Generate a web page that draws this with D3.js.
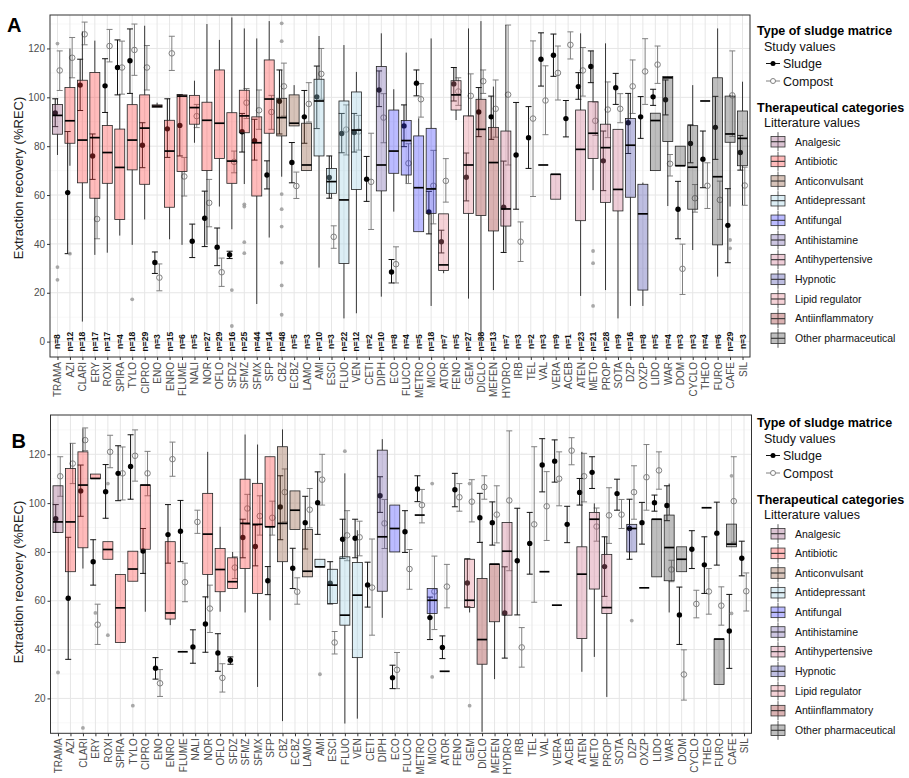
<!DOCTYPE html>
<html><head><meta charset="utf-8">
<script src="https://cdn.jsdelivr.net/npm/d3@7"></script>
<style>body{margin:0;background:#fff}svg{display:block;font-family:"Liberation Sans",Arial,sans-serif}</style>
</head><body><svg id="chart" width="909" height="778"></svg>
<script>
const categories = ["TRAMA","AZI","CLARI","ERY","ROXI","SPIRA","TYLO","CIPRO","ENO","ENRO","FLUME","NALI","NOR","OFLO","SFDZ","SFMZ","SFMX","SFP","CBZ","ECBZ","LAMO","AMI","ESCI","FLUO","VEN","CETI","DIPH","ECO","FLUCO","METRO","MICO","ATOR","FENO","GEM","DICLO","MEFEN","HYDRO","IRB","TEL","VAL","VERA","ACEB","ATEN","METO","PROP","SOTA","DZP","OXZP","LIDO","WAR","DOM","CYCLO","THEO","FURO","CAFE","SIL"];
const therapeuticClass = ["Analgesic",
 "Antibiotic","Antibiotic","Antibiotic","Antibiotic","Antibiotic","Antibiotic","Antibiotic","Antibiotic","Antibiotic","Antibiotic","Antibiotic","Antibiotic","Antibiotic","Antibiotic","Antibiotic","Antibiotic","Antibiotic",
 "Anticonvulsant","Anticonvulsant","Anticonvulsant",
 "Antidepressant","Antidepressant","Antidepressant","Antidepressant",
 "Antihistamine","Antihistamine",
 "Antifungal","Antifungal","Antifungal","Antifungal",
 "Lipid regulator","Lipid regulator","Lipid regulator",
 "Antiinflammatory","Antiinflammatory",
 "Antihypertensive","Antihypertensive","Antihypertensive","Antihypertensive","Antihypertensive","Antihypertensive","Antihypertensive","Antihypertensive","Antihypertensive","Antihypertensive",
 "Hypnotic","Hypnotic",
 "Other pharmaceutical","Other pharmaceutical","Other pharmaceutical","Other pharmaceutical","Other pharmaceutical","Other pharmaceutical","Other pharmaceutical","Other pharmaceutical"];
const nCounts = [8,12,18,17,17,4,18,29,3,15,6,5,27,29,16,25,44,14,48,5,3,10,3,22,12,2,10,8,4,5,18,7,5,27,38,13,7,3,2,3,9,1,23,21,28,9,16,8,5,4,3,3,4,6,29,3];

// study values (same in both panels)
const sludgeMean = [93.6,61,105,76,104.7,112.2,115,80.4,32.4,87.1,88.5,41.1,50.5,38.6,35.6,85.9,82.2,68.2,98.4,73.3,92,100.2,67.2,85.2,85.6,66.5,103,28.5,88.3,105.8,53.1,40.9,105.5,67.3,94,92,55,76.4,83.5,115.6,117.2,91.3,104.4,112.6,74,103.9,89.6,92,100.2,99,54.2,81.1,74.7,87.7,47.6,77.4];
const sludgeLow  = [88,36,94.6,66.4,93.8,101,101.6,71.2,27.9,75.4,76,34.4,38.9,31.1,34,77.6,74.3,62.5,85,65,81.2,87.2,58.7,77.3,77.6,57.4,96.2,24,79.8,100.6,44.1,36.3,98.5,57.6,83.9,82.8,36.5,54.2,70.9,104.6,108.6,83.8,99.2,106,61.8,97.1,77,83.2,96.7,92.8,42.1,73.2,63,74.6,32.3,70.2];
const sludgeHigh = [99.4,86,115.6,85,115.8,123.5,128,89.6,36.7,99.4,101.1,48.1,61.6,46.5,37,93.4,91,74,111.2,81.5,102.8,112.8,76,93.4,93.4,75.8,110.8,33.6,96.9,111.2,61.5,45.6,112.2,77.2,104,100.5,73.9,97.9,96.2,126.4,125.9,98.7,110.1,119,86.2,109.8,101.6,100.3,103.3,107.1,65.6,88.7,86.2,100.4,62.6,84.4];
const compostMean = [111,116.2,125.8,50.2,121,112.2,119.4,112.2,26.2,118,67.6,92.3,56.8,28.4,73.6,97.8,94.7,94,104.5,63.7,97.3,109.6,42.9,86.8,86,65.4,91.7,31.7,73,99.2,63.8,65.8,102.4,100.6,106.6,95.3,101.1,40.9,91.3,98.7,110,121.5,111,90.4,95,95.3,104.5,110.6,113.4,72.8,29.8,58.7,63.8,58,100.8,63.9];
const compostLow  = [102.8,108,121.5,42.1,114.5,101.3,109,103,20.8,111,59.6,87.6,47,22.6,69.1,91.3,86.9,86.9,92.3,58.6,89.9,99.2,38.2,76.4,78.4,45.9,81.4,24,64.7,91.9,48.2,57.1,96.7,92.3,101.6,83.7,72.3,32.8,59.4,84.7,98.9,115.7,100.5,84.4,83.5,89.6,93.4,97.1,105.7,67.8,19.3,53,54.5,50,84,55.8];
const compostHigh = [119,124.5,130.8,58.6,127.8,123,130,121.2,31.8,125,75.4,97.1,66.4,34.2,78,103.6,103,100.8,114,69.4,106,120,47.4,96.9,92.6,85.3,101.5,38.8,81,105.6,78.3,74.9,108,109.6,111.2,107.1,129.6,49,123.1,112.9,121,126.8,120.4,98,106.3,101.5,115.3,124,121,76.6,39.9,64.3,73.2,65.7,119,71.4];

// literature values: [lower whisker, Q1, median, Q3, upper whisker]
const boxA = [
 [76.4,84.9,92.6,97.1,99.6],[72,81.2,90.4,104,120],[8.2,65,82.5,107,127],[35.5,58.7,83.5,110.2,123.2],[36.4,64.8,77.4,88.5,94],
 [43.4,50,71.3,87,101.2],[39.6,70.3,82.5,97,101.6],[50,64.4,87.4,101,129.3],[95.9,95.9,96.4,96.9,97.8],[41.9,55,78,90.6,99.6],
 [39.6,69.6,100.5,101,101],[81.4,89,95.8,100.8,106.8],[39.6,70,90.6,98,130],[55.3,75,89.4,111.2,123.5],[46,64.8,73.9,93.7,132.7],
 [64.5,85.5,92.4,102.9,128.2],[15.4,59.6,81.4,92,124.1],[42.6,85.3,99.3,115.3,131.2],[67.5,84.2,91.7,99.6,111.2],[88.3,88.3,89.4,101,105],
 [70,70,72.3,89.4,89.4],[30.3,76,98.5,107.4,125.1],[58.9,60.7,65.5,70.9,76],[9.5,32,58,98.5,121.4],[11.6,62.3,86.6,102.2,110.4],
 null,[18.4,61.7,72.3,112.6,126.2],[53.2,68.9,78,94.8,103.3],[64.8,68.2,82.3,90.5,118.3],[45,45,63,84.2,91.4],
 [14.6,52.5,62.5,87.3,124.1],[28,29.1,31.4,52.3,52.3],[90.7,94.8,101,106.8,112.3],[17.6,52.5,72.3,92.4,128.2],[0,51.6,86.9,99.2,131.2],
 [21.1,45.3,73.3,87.7,104.4],[36.8,47.3,54.3,86.2,129.6],null,null,[72.3,72.3,72.3,72.3,72.3],
 [58.3,58.3,68.5,68.5,68.5],null,[18.7,49.5,78.7,94.8,126.2],[62,75,85.3,98.2,119.1],[21.1,57,79.4,89,122.1],
 [9.5,53.5,62.3,86.9,86.9],[14.6,59.1,80.4,91.3,101.6],[14.6,21.1,52.3,64.4,65.1],[70,70,90.5,93.5,93.5],[55.5,81.9,108,108.5,108.7],
 [72,72,72,80,80],[37.5,54.2,71.4,88.4,105],[98.5,98.5,98.5,98.5,98.5],[26.6,39.6,67.5,108,128.2],[55.3,81.6,85,100.5,101],
 [55.9,72,83.2,94.4,106.4]];
const outliersA = [[122,30.5,25.3],[36],[],[],[],[],[17.3],[],[],[],[],[],[],[],[21.1,6.4],[56.2,55.3,40.7,36.2],[],[],[130.3,123,60.4,54.2,47.1,32.3,23,11],[],
 [],[],[],[],[],[],[],[],[],[],[],[],[],[],[],[],[],[],[],[],[],[],[],[37.1,32.1,14.6],[],[],[],[],[],[],[],[],[],[],[41.6,38.2],[]];

const boxB = [
 [88,88,92.3,107.1,107.1],[71.9,71.9,92.3,114.2,124.5],[73.2,81.7,107.4,121,130.6],[110.1,110.1,110.1,111.9,111.9],[77,77,81,84.2,84.2],
 [42.9,42.9,57.1,70.8,70.8],[68,68,73,80.3,80.3],[55.5,81.1,107.4,107.4,107.4],null,[50,52.5,55,84.2,84.2],
 [39.1,39.1,39.1,39.1,39.1],null,[61,70.8,87.3,104,121],[55.5,63.7,72.8,81.4,90.3],[65,65,67.8,77.6,80],
 [55.2,73.2,91.7,109.8,128.1],[24.7,63,91.3,108.1,124],[52,90.3,90.3,119,119],[10.7,76,91.7,123.1,130.2],[89.2,89.2,97.1,105,105],
 [69.8,69.8,72.1,89.2,89.2],[73.9,73.9,73.9,77,77],[58.9,58.9,66.4,72.9,72.9],[9.7,50,54.1,78,112.2],[11.7,36.7,62.3,75.7,88.9],
 null,[53,63.9,86.2,121.7,126.2],[80,80,89.6,99.2,99.2],null,[95.1,95.1,95.1,95.1,95.1],
 [54.8,54.8,60.2,65,65],[31.1,31.1,31.1,31.1,31.1],null,[55.2,57.2,60.2,77,77],[6.3,34,44.1,69.1,84.2],
 [27.9,51.4,75,75,75],[54.1,54.1,80.3,92.1,92.1],null,null,[71.9,71.9,71.9,71.9,71.9],
 [58.2,58.2,58.2,58.2,58.2],null,[30.9,44.5,70.9,82.1,121],[37,64.8,93.4,96.2,99.9],[20.6,54.8,57.2,79,86.2],
 null,[80,80,89.6,91.3,91.3],[65.3,65.3,65.3,65.3,65.3],[69.8,69.8,93.4,93.4,93.4],[55.2,68.2,81.8,95.1,108],
 [71.9,71.9,77,82.1,82.1],null,[98.1,98.1,98.1,98.1,98.1],[25.7,25.7,44.3,44.3,44.3],[82.1,82.1,83.2,91.4,91.4],
 null];
const outliersB = [[30.6],[],[7.9],[55],[108,45.9],[],[17],[],[],[],[],[],[],[],[],[],[],[],[],[],
 [],[29.9],[],[121.3],[],[],[],[],[],[],[108,28.8],[],[],[108,17],[],[],[],[],[],[],[],[],[],[],[],[],[51.9],[],[],[],[],[],[],[],[111.2,54.8],[]];

const classNames = ["Analgesic","Antibiotic","Anticonvulsant","Antidepressant","Antifungal","Antihistamine","Antihypertensive","Hypnotic","Lipid regulator","Antiinflammatory","Other pharmaceutical"];
const classColors = ["#95547E","#FF3D3D","#8D5437","#9BCEE2","#3D3DFF","#705CA9","#CE708D","#4545A9","#E27E8D","#952323","#454545"];
const yTicksA = [0,20,40,60,80,100,120];
const yTicksB = [20,40,60,80,100,120];

const FILL_OP = 0.35;
const color = d3.scaleOrdinal().domain(classNames).range(classColors);
const svg = d3.select("#chart");
svg.append("rect").attr("width",909).attr("height",778).attr("fill","#fff");

function drawPanel(p){
  const g = svg.append("g");
  const y = d3.scaleLinear().domain(p.domain).range([p.bottom, p.top]);
  const x = d3.scalePoint().domain(categories).range([p.left, p.right]).padding(0.6);
  const step = x.step();
  const dodge = 0.18*step, cap = 3, hw = 0.4*step;
  // grid
  const minor = d3.range(-10, 150, 20).filter(v => v > p.domain[0] && v < p.domain[1]);
  g.selectAll(".minor").data(minor).join("line")
    .attr("x1",p.left).attr("x2",p.right).attr("y1",d=>y(d)).attr("y2",d=>y(d))
    .attr("stroke","#F2F2F2").attr("stroke-width",0.6);
  g.selectAll(".major").data(p.ticks).join("line")
    .attr("x1",p.left).attr("x2",p.right).attr("y1",d=>y(d)).attr("y2",d=>y(d))
    .attr("stroke","#E6E6E6").attr("stroke-width",1);
  g.selectAll(".vgrid").data(categories).join("line")
    .attr("x1",d=>x(d)).attr("x2",d=>x(d)).attr("y1",p.top).attr("y2",p.bottom)
    .attr("stroke","#E6E6E6").attr("stroke-width",1);

  // n labels
  if (p.showN){
    g.selectAll(".nlab").data(categories).join("text")
      .attr("transform",(d)=>`translate(${x(d)},${y(0)}) rotate(-90)`)
      .attr("text-anchor","middle").attr("dy","0.35em")
      .attr("font-size",8.5).attr("font-weight","bold").attr("fill","#111")
      .text((d,i)=>"n="+nCounts[i]);
  }

  categories.forEach((c,i)=>{
    const cx = x(c);
    // compost
    const xc = cx + dodge;
    g.append("line").attr("x1",xc).attr("x2",xc).attr("y1",y(compostLow[i])).attr("y2",y(compostHigh[i])).attr("stroke","#808080").attr("stroke-width",1);
    [compostLow[i],compostHigh[i]].forEach(v=>g.append("line").attr("x1",xc-cap).attr("x2",xc+cap).attr("y1",y(v)).attr("y2",y(v)).attr("stroke","#808080").attr("stroke-width",1));
    g.append("circle").attr("cx",xc).attr("cy",y(compostMean[i])).attr("r",2.8).attr("fill","none").attr("stroke","#808080").attr("stroke-width",1);
    // sludge
    const xs = cx - dodge;
    g.append("line").attr("x1",xs).attr("x2",xs).attr("y1",y(sludgeLow[i])).attr("y2",y(sludgeHigh[i])).attr("stroke","#111").attr("stroke-width",1);
    [sludgeLow[i],sludgeHigh[i]].forEach(v=>g.append("line").attr("x1",xs-cap).attr("x2",xs+cap).attr("y1",y(v)).attr("y2",y(v)).attr("stroke","#111").attr("stroke-width",1));
    g.append("circle").attr("cx",xs).attr("cy",y(sludgeMean[i])).attr("r",2.7).attr("fill","#000");
  });

  categories.forEach((c,i)=>{
    const b = p.box[i];
    const cx = x(c);
    (p.out[i]||[]).forEach(v=>g.append("circle").attr("cx",cx).attr("cy",y(v)).attr("r",1.9).attr("fill","#9a9a9a").attr("fill-opacity",0.85));
    if(!b) return;
    g.append("line").attr("x1",cx).attr("x2",cx).attr("y1",y(b[0])).attr("y2",y(b[1])).attr("stroke","#222").attr("stroke-width",0.9);
    g.append("line").attr("x1",cx).attr("x2",cx).attr("y1",y(b[3])).attr("y2",y(b[4])).attr("stroke","#222").attr("stroke-width",0.9);
    g.append("rect").attr("x",cx-hw).attr("width",2*hw).attr("y",y(b[3])).attr("height",Math.max(0,y(b[1])-y(b[3])))
      .attr("fill",color(therapeuticClass[i])).attr("fill-opacity",FILL_OP).attr("stroke","#222").attr("stroke-width",0.8);
    g.append("line").attr("x1",cx-hw).attr("x2",cx+hw).attr("y1",y(b[2])).attr("y2",y(b[2])).attr("stroke","#000").attr("stroke-width",1.7);
  });

  // border
  g.append("rect").attr("x",p.left).attr("y",p.top).attr("width",p.right-p.left).attr("height",p.bottom-p.top)
    .attr("fill","none").attr("stroke","#333").attr("stroke-width",1);

  // axes
  const ay = g.append("g").attr("transform",`translate(${p.left},0)`)
    .call(d3.axisLeft(y).tickValues(p.ticks).tickSize(3).tickPadding(2));
  ay.select(".domain").remove();
  ay.selectAll("line").attr("stroke","#333");
  ay.selectAll("text").attr("font-size",10).attr("fill","#4D4D4D").attr("font-family",'"Liberation Sans",Arial,sans-serif');
  const ax = g.append("g").attr("transform",`translate(0,${p.bottom})`)
    .call(d3.axisBottom(x).tickSize(3));
  ax.select(".domain").remove();
  ax.selectAll("line").attr("stroke","#333");
  ax.selectAll("text").attr("font-size",10).attr("fill","#4D4D4D").attr("font-family",'"Liberation Sans",Arial,sans-serif')
    .attr("transform","rotate(-90)").attr("text-anchor","end").attr("x",-5).attr("y",0).attr("dy","0.35em");

  // y title
  svg.append("text").attr("transform",`translate(22.5,${p.titleY}) rotate(-90)`).attr("text-anchor","middle")
    .attr("font-size",13).attr("fill","#222").text("Extraction recovery (%REC)");
  // panel tag
  svg.append("text").attr("x",p.tagX).attr("y",p.tagY).attr("font-size",20).attr("font-weight","bold").attr("fill","#000").text(p.tag);

  drawLegend(p.legendT);
}

function drawLegend(T){
  const g = svg.append("g");
  g.append("text").attr("x",757).attr("y",T).attr("font-size",12.5).attr("font-weight","bold").text("Type of sludge matrice");
  g.append("text").attr("x",764).attr("y",T+15.7).attr("font-size",12.5).attr("fill","#111").text("Study values");
  // sludge key
  let c = T+28.5;
  g.append("line").attr("x1",766).attr("x2",780).attr("y1",c).attr("y2",c).attr("stroke","#111").attr("stroke-width",1);
  g.append("circle").attr("cx",773).attr("cy",c).attr("r",2.5).attr("fill","#000");
  g.append("text").attr("x",783).attr("y",c+4.5).attr("font-size",12.5).attr("fill","#111").text("Sludge");
  c = T+46;
  g.append("line").attr("x1",766).attr("x2",780).attr("y1",c).attr("y2",c).attr("stroke","#808080").attr("stroke-width",1);
  g.append("circle").attr("cx",773).attr("cy",c).attr("r",2.5).attr("fill","#fff").attr("stroke","#808080");
  g.append("text").attr("x",783).attr("y",c+4.5).attr("font-size",12.5).attr("fill","#111").text("Compost");
  g.append("text").attr("x",757).attr("y",T+76.7).attr("font-size",12.5).attr("font-weight","bold").text("Therapeutical categories");
  g.append("text").attr("x",764).attr("y",T+92.3).attr("font-size",12.5).attr("fill","#111").text("Litterature values");
  classNames.forEach((n,i)=>{
    const cy = T+106.7+i*19.66;
    g.append("line").attr("x1",778).attr("x2",778).attr("y1",cy-9.5).attr("y2",cy+9.5).attr("stroke","#333").attr("stroke-width",0.8);
    g.append("rect").attr("x",771).attr("y",cy-5.3).attr("width",14).attr("height",10.6)
      .attr("fill",color(n)).attr("fill-opacity",FILL_OP).attr("stroke","#333").attr("stroke-width",0.8);
    g.append("line").attr("x1",771).attr("x2",785).attr("y1",cy).attr("y2",cy).attr("stroke","#333").attr("stroke-width",1.1);
    g.append("text").attr("x",795).attr("y",cy+3.8).attr("font-size",10.5).attr("fill","#111").text(n);
  });
}

drawPanel({top:15,bottom:357,left:50,right:750,domain:[-6.3,133.7],ticks:yTicksA,showN:true,box:boxA,out:outliersA,
  tag:"A",tagX:7,tagY:31.7,titleY:178,legendT:35});
drawPanel({top:415,bottom:733.3,left:50.5,right:751.5,domain:[5.7,136.1],ticks:yTicksB,showN:false,box:boxB,out:outliersB,
  tag:"B",tagX:11.5,tagY:448.3,titleY:582,legendT:427});
</script></body></html>
